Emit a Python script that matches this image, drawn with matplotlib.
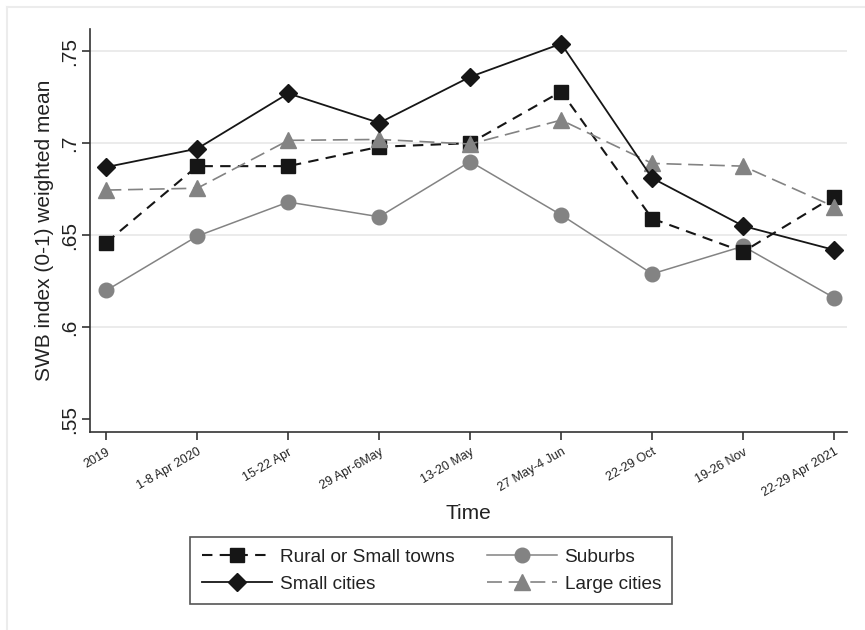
import matplotlib.pyplot as plt
from matplotlib.lines import Line2D

plt.rcParams['font.family'] = ['Liberation Sans', 'DejaVu Sans']

# survey waves
waves = ["2019", "1-8 Apr 2020", "15-22 Apr", "29 Apr-6May", "13-20 May",
         "27 May-4 Jun", "22-29 Oct", "19-26 Nov", "22-29 Apr 2021"]

# SWB index (0-1) weighted mean per area type
rural = [0.646, 0.6875, 0.6875, 0.698, 0.700, 0.728, 0.659, 0.641, 0.671]
small_cities = [0.687, 0.697, 0.727, 0.711, 0.736, 0.754, 0.681, 0.655, 0.642]
suburbs = [0.620, 0.6495, 0.668, 0.660, 0.690, 0.661, 0.629, 0.644, 0.616]
large_cities = [0.6745, 0.6755, 0.7015, 0.702, 0.6995, 0.7125, 0.689, 0.6875, 0.6655]

yticks = [0.55, 0.6, 0.65, 0.7, 0.75]
ytick_labels = [".55", ".6", ".65", ".7", ".75"]

fig = plt.figure(figsize=(8.65, 6.30), dpi=100)
ax = fig.add_axes([0.104, 0.314, 0.875, 0.640])

x = list(range(len(waves)))
black = '#161616'
gray = '#838383'

# grid lines (none at .55)
for yv in yticks[1:]:
    ax.axhline(yv, color='#e8e8e8', lw=1.2, zorder=0)

ax.plot(x, rural, color=black, lw=1.5, dashes=(5, 3.5), marker='s', ms=10,
        mfc=black, mec=black, label='Rural or Small towns', zorder=3)
ax.plot(x, small_cities, color=black, lw=1.3, marker='D', ms=9.5,
        mfc=black, mec=black, label='Small cities', zorder=4)
ax.plot(x, suburbs, color=gray, lw=1.1, marker='o', ms=10.5,
        mfc=gray, mec=gray, label='Suburbs', zorder=2)
ax.plot(x, large_cities, color=gray, lw=1.2, dashes=(9, 4), marker='^', ms=11,
        mfc=gray, mec=gray, label='Large cities', zorder=3)

ax.set_xlim(-0.18, 8.14)
ax.set_ylim(0.543, 0.762)
ax.set_yticks(yticks)
ax.set_yticklabels(ytick_labels, rotation=90, va='center', fontsize=15, color='#222222')
ax.set_xticks(x)
ax.set_xticklabels(waves, rotation=30, ha='right', va='top', rotation_mode='anchor',
                   fontsize=9, color='#222222')
ax.tick_params(axis='both', direction='out', length=6, width=1.2, color='#333333')
ax.tick_params(axis='y', pad=2)
ax.tick_params(axis='x', pad=4)

for side in ['top', 'right']:
    ax.spines[side].set_visible(False)
for side in ['left', 'bottom']:
    ax.spines[side].set_color('#333333')
    ax.spines[side].set_linewidth(1.2)

ax.set_ylabel("SWB index (0-1) weighted mean", fontsize=15, color='#222222', labelpad=4)
ax.set_xlabel("Time", fontsize=15, color='#222222', labelpad=3)

leg = fig.legend(loc='center', bbox_to_anchor=(0.4985, 0.0945), ncol=2,
                 fontsize=13.7, handlelength=3.7, handletextpad=0.4,
                 columnspacing=1.7, labelspacing=0.5, borderpad=0.6,
                 fancybox=False, edgecolor='#555555', framealpha=1)
leg.get_frame().set_linewidth(1.2)
for t in leg.get_texts():
    t.set_color('#222222')

# faint outer graph-region border (top and left edges visible)
fig.add_artist(Line2D([0.008, 1.0], [0.989, 0.989], transform=fig.transFigure,
                      color='#ececec', lw=1.5))
fig.add_artist(Line2D([0.008, 0.008], [0.0, 0.989], transform=fig.transFigure,
                      color='#ececec', lw=1.5))

fig.savefig('out.png', dpi=100, facecolor='white')
